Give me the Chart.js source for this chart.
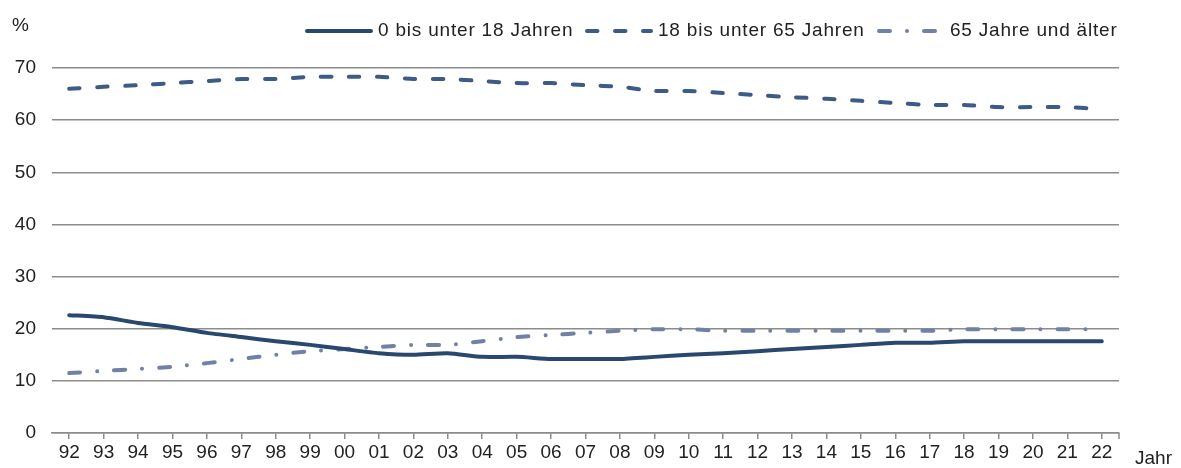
<!DOCTYPE html>
<html>
<head>
<meta charset="utf-8">
<script src="https://cdn.jsdelivr.net/npm/chart.js@4/dist/chart.umd.min.js"></script>
<style>
  body { margin: 0; background: #fff; }
  #wrap { position: relative; width: 1181px; height: 468px; }
</style>
</head>
<body>
<div id="wrap"><canvas id="altersChart"></canvas></div>
<script>
const jahre = ["92","93","94","95","96","97","98","99","00","01","02","03","04","05","06","07",
  "08","09","10","11","12","13","14","15","16","17","18","19","20","21","22"];

const unter18 = [22.6,22.2,21.1,20.3,19.2,18.4,17.6,16.9,16.1,15.3,15.0,15.3,14.6,14.6,14.2,14.2,
  14.2,14.6,15.0,15.3,15.7,16.1,16.5,16.9,17.3,17.3,17.6,17.6,17.6,17.6,17.6];

const von18bis65 = [66.0,66.4,66.7,67.1,67.5,67.9,67.9,68.3,68.3,68.3,67.9,67.9,67.5,67.1,67.1,66.7,
  66.4,65.6,65.6,65.2,64.8,64.4,64.1,63.7,63.3,62.9,62.9,62.5,62.5,62.5,62.1];

const ab65 = [11.5,11.9,12.3,12.7,13.4,14.2,15.0,15.7,16.1,16.5,16.9,16.9,17.6,18.4,18.8,19.2,
  19.6,19.9,19.9,19.6,19.6,19.6,19.6,19.6,19.6,19.6,19.9,19.9,19.9,19.9,19.9];

const yTicks = [0, 10, 20, 30, 40, 50, 60, 70];

const FONT = "'Liberation Sans', Arial, sans-serif";
const FSIZE = 19;
const TEXT = "#222222";
const GRID = "#8c8c8c";

// eigene Legende + Achsenbeschriftungen
const extras = {
  id: "extras",
  afterDraw(chart) {
    const ctx = chart.ctx;
    const area = chart.chartArea;
    ctx.save();
    ctx.font = FSIZE + "px " + FONT;
    ctx.fillStyle = TEXT;
    ctx.textBaseline = "middle";
    ctx.textAlign = "left";
    ctx.fillText("%", 12, 26);
    ctx.fillText("Jahr", 1135, 459);

    // Tick am Ende der Achse
    ctx.strokeStyle = GRID;
    ctx.lineWidth = 1.5;
    ctx.beginPath();
    ctx.moveTo(area.right, area.bottom);
    ctx.lineTo(area.right, area.bottom + 6);
    ctx.stroke();

    const items = [
      { x: 305, ds: chart.data.datasets[0] },
      { x: 585, ds: chart.data.datasets[1] },
      { x: 877, ds: chart.data.datasets[2] }
    ];
    ctx.letterSpacing = "0.8px";
    items.forEach((it) => {
      const ds = it.ds;
      ctx.strokeStyle = ds.borderColor;
      ctx.lineWidth = ds.borderWidth;
      ctx.lineCap = "round";
      ctx.setLineDash(ds.borderDash || []);
      ctx.beginPath();
      ctx.moveTo(it.x + 2, 31);
      ctx.lineTo(it.x + 66, 31);
      ctx.stroke();
      ctx.setLineDash([]);
      ctx.fillText(ds.label, it.x + 73, 31);
    });
    ctx.restore();
  }
};

new Chart(document.getElementById("altersChart"), {
  type: "line",
  data: {
    labels: jahre,
    datasets: [
      {
        label: "0 bis unter 18 Jahren",
        data: unter18,
        borderColor: "#29486f",
        borderWidth: 4,
        borderCapStyle: "round",
        tension: 0.2,
        pointRadius: 0,
      },
      {
        label: "18 bis unter 65 Jahren",
        data: von18bis65,
        borderColor: "#3e5a86",
        borderWidth: 4,
        borderCapStyle: "round",
        borderDash: [10.5, 17.5],
        tension: 0.2,
        pointRadius: 0,
      },
      {
        label: "65 Jahre und älter",
        data: ab65,
        borderColor: "#7181a5",
        borderWidth: 4,
        borderCapStyle: "round",
        borderDash: [11, 17, 0.01, 17],
        tension: 0.2,
        pointRadius: 0,
      },
    ],
  },
  options: {
    responsive: true,
    maintainAspectRatio: false,
    animation: false,
    layout: { padding: { top: 68, right: 62, left: 0, bottom: 0 } },
    plugins: {
      legend: { display: false },
      tooltip: { enabled: false },
    },
    scales: {
      x: {
        offset: true,
        border: { color: GRID, width: 1.5 },
        grid: {
          drawOnChartArea: false,
          drawTicks: true,
          tickLength: 6,
          color: GRID,
          lineWidth: 1.5,
          offset: false,
        },
        ticks: {
          autoSkip: false,
          maxRotation: 0,
          color: TEXT,
          font: { family: FONT, size: FSIZE },
          padding: 2,
        },
        afterFit: (scale) => { scale.height = 35; },
      },
      y: {
        min: 0,
        max: 70,
        border: { display: false },
        grid: { color: GRID, lineWidth: 1.5, drawTicks: false },
        afterBuildTicks: (scale) => {
          scale.ticks = yTicks.map((v) => ({ value: v }));
        },
        ticks: {
          color: TEXT,
          font: { family: FONT, size: FSIZE },
          padding: 16,
        },
        afterFit: (scale) => { scale.width = 52; },
      },
    },
  },
  plugins: [extras],
});
</script>
</body>
</html>
